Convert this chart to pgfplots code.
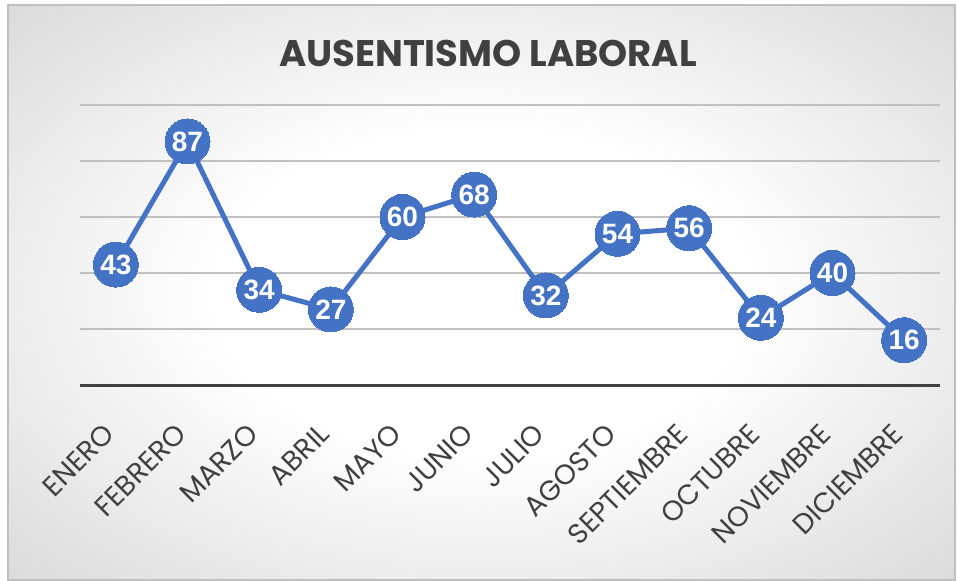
\documentclass[border=0pt]{standalone}
\usepackage{pgfplots}
\pgfplotsset{compat=1.18}
\usepackage{fontspec}
\setmainfont{Poppins}
\newfontfamily\labelfont{Liberation Sans}
\definecolor{serieblue}{HTML}{4472C4}
\definecolor{txtgray}{HTML}{404040}
\definecolor{gridgray}{HTML}{C0C0C0}
\pgfdeclareradialshading{chartbg}{\pgfpoint{0bp}{0bp}}{%
  color(0bp)=(white); color(14bp)=(white); color(50bp)=(black!24); color(75bp)=(black!30)}

\begin{document}
\begin{tikzpicture}
\useasboundingbox (0,0) rectangle (479pt,290pt);
\shade[shading=chartbg] (4pt,0pt) rectangle (477.5pt,287.5pt);
\draw[black!25, line width=0.8pt] (4pt,0pt) rectangle (477.5pt,287.5pt);
\node[anchor=base, font=\bfseries\fontsize{18.5}{20}\selectfont, text=txtgray]
  at (244pt,257pt) {AUSENTISMO LABORAL};
\begin{axis}[
    at={(40pt,97.5pt)}, anchor=south west,
    scale only axis, width=430pt, height=140pt,
    xmin=-0.5, xmax=11.5, ymin=0, ymax=100,
    axis line style={draw=none},
    xtick=data,
    xticklabels={ENERO,FEBRERO,MARZO,ABRIL,MAYO,JUNIO,JULIO,AGOSTO,SEPTIEMBRE,OCTUBRE,NOVIEMBRE,DICIEMBRE},
    xticklabel style={font=\fontsize{14}{15}\selectfont, text=txtgray,
      xshift=-3pt, yshift=-22pt, rotate=45, anchor=east, inner sep=0pt},
    ytick={20,40,60,80,100},
    yticklabels={},
    major tick length=0pt,
    ymajorgrids,
    major grid style={draw=gridgray, line width=0.7pt},
    extra y ticks={0},
    extra y tick labels={},
    extra y tick style={grid=major, major grid style={draw=txtgray, line width=1.5pt}},
    clip=false,
    nodes near coords={\labelfont\bfseries\pgfmathprintnumber[assume math mode=true]{\pgfplotspointmeta}},
    every node near coord/.append style={anchor=center, text=white,
      font=\labelfont\bfseries\fontsize{14}{14}\selectfont},
]
\addplot[serieblue, line width=2.5pt,
    mark=*, mark size=11.25pt, mark options={fill=serieblue, draw=serieblue, line width=0pt}]
    coordinates {
        (0,43) (1,87) (2,34) (3,27) (4,60) (5,68)
        (6,32) (7,54) (8,56) (9,24) (10,40) (11,16)
    };
\end{axis}
\end{tikzpicture}
\end{document}
